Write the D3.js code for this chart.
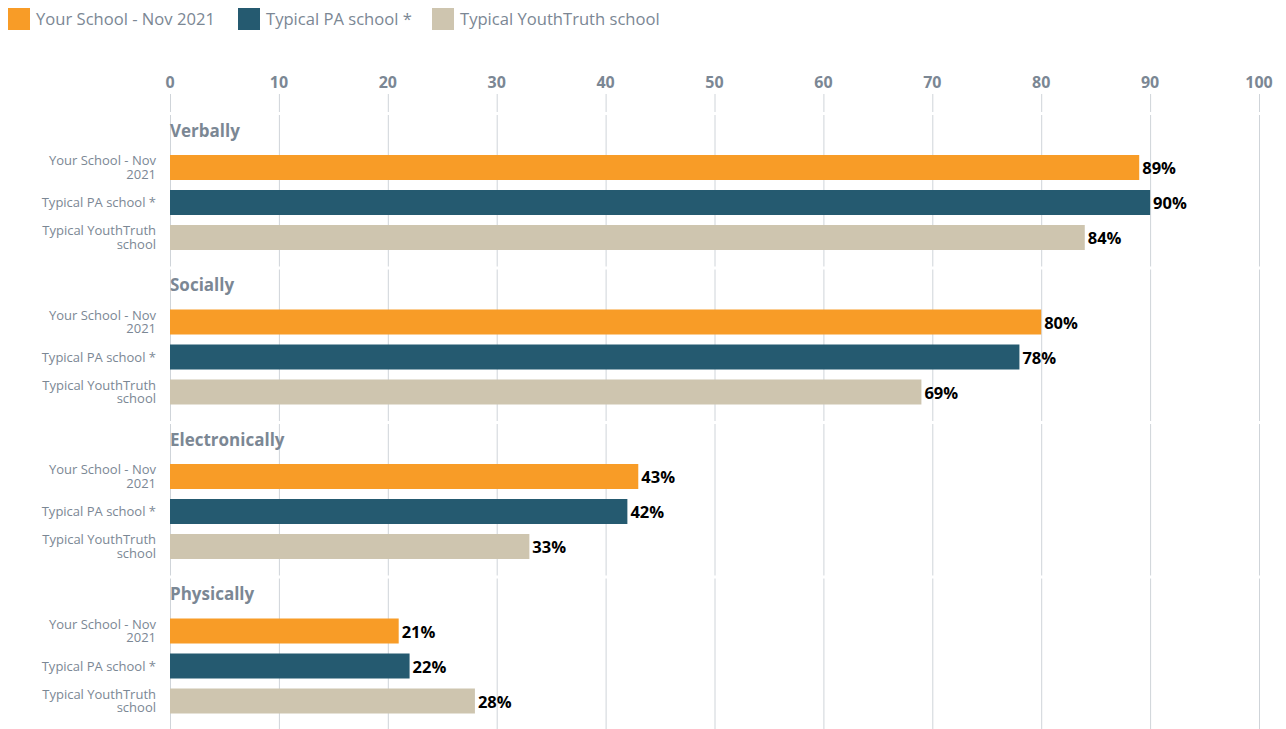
<!DOCTYPE html>
<html>
<head>
<meta charset="utf-8">
<script src="https://cdn.jsdelivr.net/npm/d3@7"></script>
<style>
    body { margin: 0; background: #fff; }
    svg { display: block; font-family: 'Open Sans', sans-serif; }
</style>
</head>
<body>
<div id="chart"></div>
<script>
// chart data
var categories = ['Verbally', 'Socially', 'Electronically', 'Physically'];
var seriesNames = ['Your School - Nov 2021', 'Typical PA school *', 'Typical YouthTruth school'];
var seriesColors = ['#f89c27', '#255a70', '#cec5af'];
var yourSchool = [89, 80, 43, 21];
var typicalPA = [90, 78, 42, 22];
var typicalYT = [84, 69, 33, 28];
var tickValues = [0, 10, 20, 30, 40, 50, 60, 70, 80, 90, 100];

var seriesValues = [yourSchool, typicalPA, typicalYT];

var width = 1286,
    height = 729;
var textGrey = '#7b8794';
var gridColor = '#cfd4d9';

var svg = d3
    .select('#chart')
    .append('svg')
    .attr('width', width)
    .attr('height', height);

var x = d3.scaleLinear().domain([0, 100]).range([170, 1259]);

// one panel per category
var panel = d3.scaleBand().domain(categories).range([113, 731]);

var bar = d3
    .scaleBand()
    .domain(seriesNames)
    .range([42, 137])
    .paddingInner(10 / 35)
    .paddingOuter(0);

// legend
var legendX = [8, 238, 432];
var legend = svg
    .append('g')
    .selectAll('g')
    .data(seriesNames)
    .enter()
    .append('g')
    .attr('transform', function(d, i) {
        return 'translate(' + legendX[i] + ',8)';
    });
legend
    .append('rect')
    .attr('width', 22)
    .attr('height', 22)
    .attr('fill', function(d, i) {
        return seriesColors[i];
    });
legend
    .append('text')
    .attr('x', 28)
    .attr('y', 11)
    .attr('dy', '0.35em')
    .attr('fill', textGrey)
    .style('font-size', '16.6px')
    .text(function(d) {
        return d;
    });

// top axis
var axis = svg.append('g');
axis
    .selectAll('text')
    .data(tickValues)
    .enter()
    .append('text')
    .attr('x', function(d) {
        return x(d);
    })
    .attr('y', 82)
    .attr('dy', '0.35em')
    .attr('text-anchor', 'middle')
    .attr('fill', textGrey)
    .style('font-size', '16px')
    .style('font-weight', 'bold')
    .text(function(d) {
        return d;
    });
axis
    .selectAll('line')
    .data(tickValues)
    .enter()
    .append('line')
    .attr('x1', function(d) {
        return x(d) + 0.5;
    })
    .attr('x2', function(d) {
        return x(d) + 0.5;
    })
    .attr('y1', 94)
    .attr('y2', 112)
    .attr('stroke', gridColor);

var panels = svg
    .append('g')
    .selectAll('g')
    .data(categories)
    .enter()
    .append('g')
    .attr('transform', function(d) {
        return 'translate(0,' + panel(d) + ')';
    });

// gridlines, broken slightly at each panel edge
panels.each(function(cat) {
    d3.select(this)
        .selectAll('line')
        .data(tickValues)
        .enter()
        .append('line')
        .attr('x1', function(d) {
            return x(d) + 0.5;
        })
        .attr('x2', function(d) {
            return x(d) + 0.5;
        })
        .attr('y1', 2)
        .attr('y2', panel.bandwidth() - 1)
        .attr('stroke', gridColor);
});

panels
    .append('text')
    .attr('x', x(0))
    .attr('y', 18)
    .attr('dy', '0.35em')
    .attr('fill', textGrey)
    .style('font-size', '17px')
    .style('font-weight', 'bold')
    .text(function(d) {
        return d;
    });

panels.each(function(cat, ci) {
    var g = d3.select(this);
    var rows = seriesNames.map(function(name, si) {
        return { name: name, value: seriesValues[si][ci], color: seriesColors[si] };
    });

    g.selectAll('rect')
        .data(rows)
        .enter()
        .append('rect')
        .attr('x', x(0))
        .attr('y', function(d) {
            return bar(d.name);
        })
        .attr('width', function(d) {
            return x(d.value) - x(0);
        })
        .attr('height', bar.bandwidth())
        .attr('fill', function(d) {
            return d.color;
        });

    g.selectAll('text.value')
        .data(rows)
        .enter()
        .append('text')
        .attr('class', 'value')
        .attr('x', function(d) {
            return x(d.value) + 3;
        })
        .attr('y', function(d) {
            return bar(d.name) + bar.bandwidth() / 2 + 1;
        })
        .attr('dy', '0.35em')
        .attr('fill', '#000')
        .style('font-size', '16.5px')
        .style('font-weight', 'bold')
        .text(function(d) {
            return d.value + '%';
        });

    var labels = g
        .selectAll('text.row')
        .data(rows)
        .enter()
        .append('text')
        .attr('class', 'row')
        .attr('text-anchor', 'end')
        .attr('fill', textGrey)
        .style('font-size', '13px');

    labels.each(function(d) {
        wrap(d3.select(this), d.name, 125, bar(d.name) + bar.bandwidth() / 2);
    });
});

// right aligned label, wrapped into lines no wider than maxW
function wrap(text, str, maxW, cy) {
    var words = str.split(' ');
    var lines = [];
    var line = [];
    var probe = text.append('tspan');
    words.forEach(function(w) {
        line.push(w);
        probe.text(line.join(' '));
        if (probe.node().getComputedTextLength() > maxW && line.length > 1) {
            line.pop();
            lines.push(line.join(' '));
            line = [w];
        }
    });
    lines.push(line.join(' '));
    probe.remove();

    var lh = 13.3;
    var y0 = cy - ((lines.length - 1) * lh) / 2;
    lines.forEach(function(l, i) {
        text.append('tspan')
            .attr('x', 156)
            .attr('y', y0 + i * lh)
            .attr('dy', '0.35em')
            .text(l);
    });
}
</script>
</body>
</html>
